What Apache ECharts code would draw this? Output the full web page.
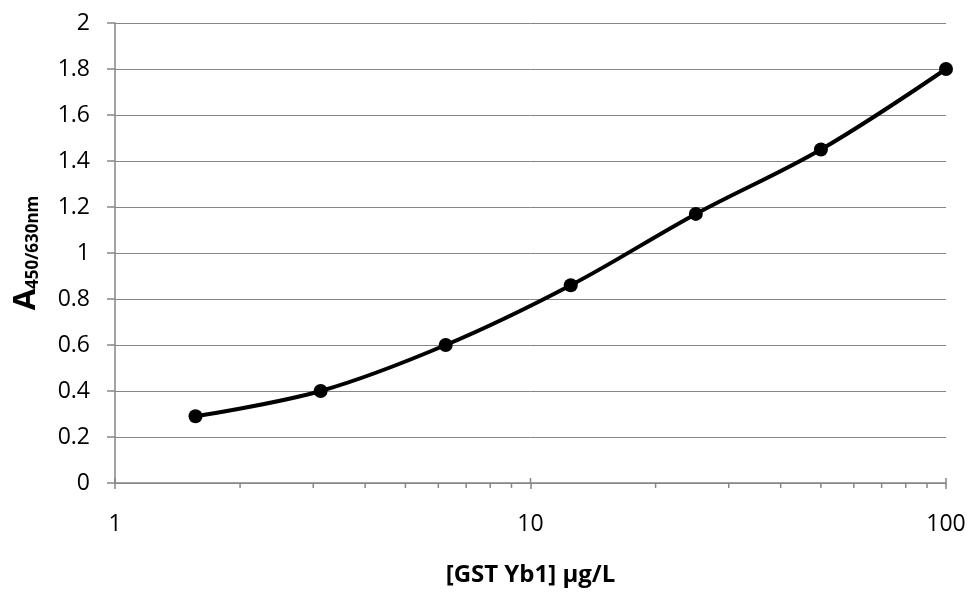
<!DOCTYPE html>
<html>
<head>
<meta charset="utf-8">
<script src="https://cdn.jsdelivr.net/npm/echarts@6/dist/echarts.min.js"></script>
<style>html,body{margin:0;padding:0;background:#fff}#c{width:969px;height:592px}</style>
</head>
<body>
<div id="c"></div>
<script>
const concentrations = [1.5625, 3.125, 6.25, 12.5, 25, 50, 100];
const absorbance = [0.29, 0.40, 0.60, 0.86, 1.17, 1.45, 1.80];
const xTitle = '[GST Yb1] µg/L';
const yTitleMain = 'A';
const yTitleSub = '450/630nm';

const FONT = 'Open Sans';
const GRAY = '#868686';
const chart = echarts.init(document.getElementById('c'), null, {renderer: 'canvas'});
const option = {
  animation: false,
  backgroundColor: '#fff',
  grid: {left: 115, right: 23, top: 23, bottom: 109, outerBoundsMode: 'none', containLabel: false},
  xAxis: {
    type: 'log', logBase: 10, min: 1, max: 100,
    name: xTitle, nameLocation: 'middle', nameGap: 80,
    nameTextStyle: {fontFamily: FONT, fontSize: 24, fontWeight: 'bold', color: '#000'},
    axisLine: {show: true, lineStyle: {color: GRAY, width: 1.5}},
    axisTick: {show: true, length: 6, lineStyle: {color: GRAY, width: 1.5}},
    axisLabel: {fontFamily: FONT, fontSize: 23, color: '#000', margin: 30},
    splitLine: {show: false}
  },
  yAxis: {
    type: 'value', min: 0, max: 2, interval: 0.2,
    name: '{a|' + yTitleMain + '}{s|' + yTitleSub + '}',
    nameLocation: 'middle', nameGap: 73, nameRotate: 90,
    nameTextStyle: {
      rich: {
        a: {fontFamily: FONT, fontSize: 31, fontWeight: 'bold', color: '#000', lineHeight: 36, verticalAlign: 'bottom'},
        s: {fontFamily: FONT, fontSize: 17, fontWeight: 'bold', color: '#000', lineHeight: 22, verticalAlign: 'bottom'}
      }
    },
    axisLine: {show: true, lineStyle: {color: GRAY, width: 1.5}},
    axisTick: {show: true, length: 8, lineStyle: {color: GRAY, width: 1.5}},
    axisLabel: {fontFamily: FONT, fontSize: 23, color: '#000', margin: 25,
      formatter: v => String(Math.round(v * 10) / 10)},
    splitLine: {show: true, lineStyle: {color: GRAY, width: 1}}
  },
  series: [{
    type: 'line',
    data: concentrations.map((c, i) => [c, absorbance[i]]),
    smooth: 0.35,
    symbol: 'circle', symbolSize: 14,
    lineStyle: {color: '#000', width: 4},
    itemStyle: {color: '#000'}
  }]
};
chart.setOption(option);

// minor ticks of the log axis at 2..9 of each decade, positioned via the axis scale
const minorVals = [];
for (let d = 1; d < 100; d *= 10) for (let m = 2; m <= 9; m++) minorVals.push(m * d);
const y0 = chart.convertToPixel({yAxisIndex: 0}, 0);
const elements = minorVals.map(v => {
  const px = chart.convertToPixel({xAxisIndex: 0}, v);
  return {type: 'line', shape: {x1: px, y1: y0, x2: px, y2: y0 + 5},
    style: {stroke: GRAY, lineWidth: 1.5}, silent: true};
});
[1, 10, 100].forEach(v => {
  const px = chart.convertToPixel({xAxisIndex: 0}, v);
  elements.push({type: 'line', shape: {x1: px, y1: y0 - 5, x2: px, y2: y0},
    style: {stroke: GRAY, lineWidth: 1.5}, silent: true});
});
chart.setOption({graphic: {elements: elements}});
</script>
</body>
</html>
